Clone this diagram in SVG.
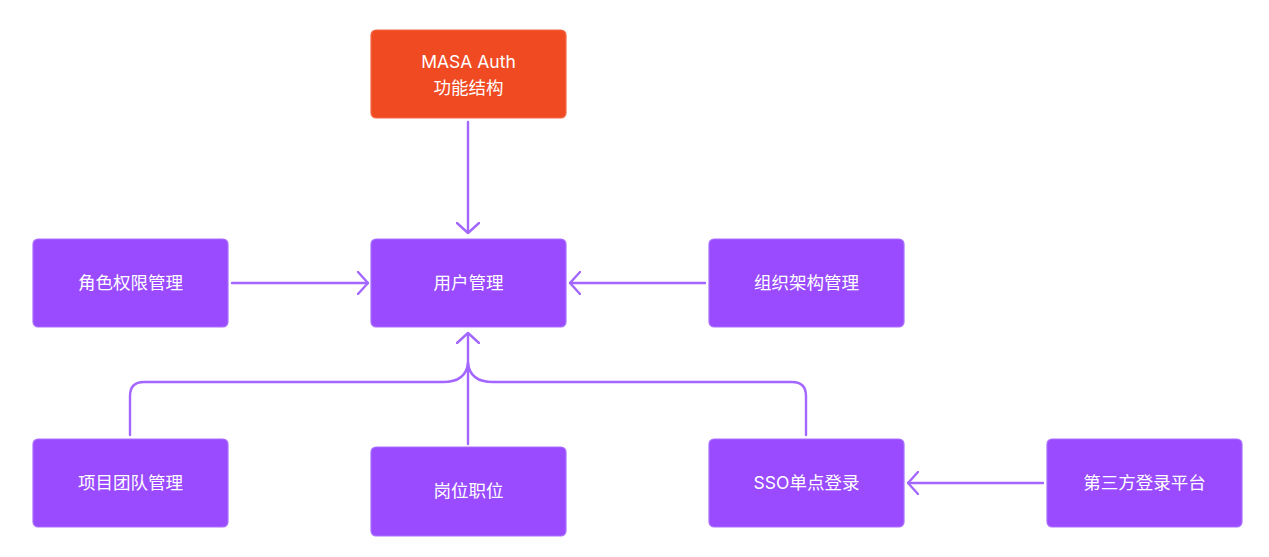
<svg xmlns="http://www.w3.org/2000/svg" width="1269" height="557" viewBox="0 0 1269 557">
<style>
.n{fill:#9A4BFF;stroke:#A970FF;stroke-width:1.2}
.r{fill:#F04A23;stroke:#F26A48;stroke-width:1.2}
.t{fill:#FFFFFF;font-family:Inter,"Noto Sans CJK SC",sans-serif;font-size:17.5px;text-anchor:middle}
.c{fill:none;stroke:#A366FF;stroke-width:2.4;stroke-linecap:round;stroke-linejoin:round}
</style>
<defs>
<marker id="a" viewBox="0 0 12 24" refX="11" refY="12" markerWidth="12" markerHeight="24" markerUnits="userSpaceOnUse" orient="auto">
<path d="M1 1 L11 12 L1 23" fill="none" stroke="#A366FF" stroke-width="2.4" stroke-linecap="round" stroke-linejoin="round"/>
</marker>
</defs>
<rect width="1269" height="557" fill="#FFFFFF"/>
<g id="connectors">
<path class="c" d="M468 122 V233" marker-end="url(#a)"/>
<path class="c" d="M232 283 H368" marker-end="url(#a)"/>
<path class="c" d="M705 283 H570" marker-end="url(#a)"/>
<path class="c" d="M1043 483 H908" marker-end="url(#a)"/>
<path class="c" d="M468 444 V333" marker-end="url(#a)"/>
<path class="c" d="M130 435 V396 Q130 382 144 382 H443 Q466 382 468 363"/>
<path class="c" d="M806 435 V396 Q806 382 792 382 H493 Q470 382 468 363"/>
</g>
<g id="masa">
<rect class="r" x="371" y="30" width="195" height="88" rx="5"/>
<text class="t" x="468.5" y="68">MASA Auth</text>
<text class="t" x="468.5" y="94">功能结构</text>
</g>
<g id="user">
<rect class="n" x="371" y="239" width="195" height="88" rx="5"/>
<text class="t" x="468.5" y="289">用户管理</text>
</g>
<g id="role">
<rect class="n" x="33" y="239" width="195" height="88" rx="5"/>
<text class="t" x="130.5" y="289">角色权限管理</text>
</g>
<g id="org">
<rect class="n" x="709" y="239" width="195" height="88" rx="5"/>
<text class="t" x="806.5" y="289">组织架构管理</text>
</g>
<g id="team">
<rect class="n" x="33" y="439" width="195" height="88" rx="5"/>
<text class="t" x="130.5" y="489">项目团队管理</text>
</g>
<g id="post">
<rect class="n" x="371" y="447" width="195" height="89" rx="5"/>
<text class="t" x="468.5" y="497">岗位职位</text>
</g>
<g id="sso">
<rect class="n" x="709" y="439" width="195" height="88" rx="5"/>
<text class="t" x="806.5" y="489">SSO单点登录</text>
</g>
<g id="third">
<rect class="n" x="1047" y="439" width="195" height="88" rx="5"/>
<text class="t" x="1144.5" y="489">第三方登录平台</text>
</g>
</svg>
